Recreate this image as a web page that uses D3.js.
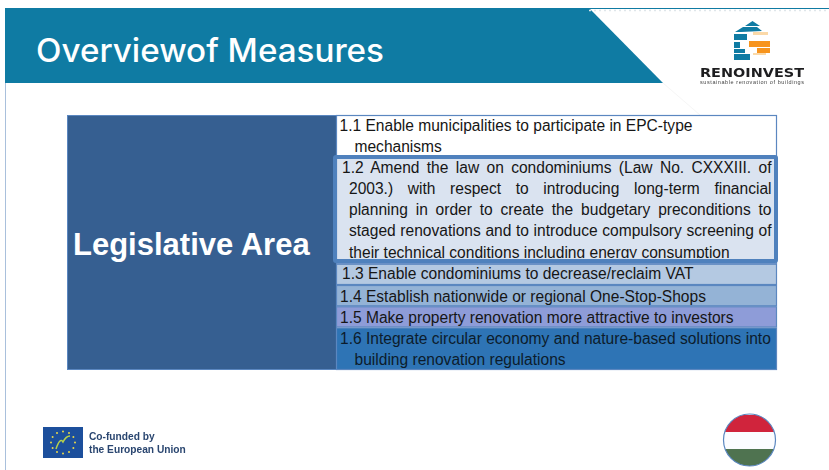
<!DOCTYPE html>
<html>
<head>
<meta charset="utf-8">
<script src="https://d3js.org/d3.v7.min.js"></script>
<style>
    html, body { margin: 0; padding: 0; background: white; overflow: hidden; }
    svg { display: block; }
    .soft { filter: blur(0.45px); }
</style>
</head>
<body>
<svg id="slide" width="829" height="470"></svg>
<script>
    const titleText = "Overviewof Measures"
    const areaLabel = "Legislative Area"
    const brandName = "RENOINVEST"
    const brandSub = "sustainable renovation of buildings"
    const fundLines = ["Co-funded by", "the European Union"]

    // one list of wrapped lines per measure
    const measureLines = [
        ["1.1 Enable municipalities to participate in EPC-type", "mechanisms"],
        ["1.2 Amend the law on condominiums (Law No. CXXXIII. of",
         "2003.) with respect to introducing long-term financial",
         "planning in order to create the budgetary preconditions to",
         "staged renovations and to introduce compulsory screening of",
         "their technical conditions including energy consumption"],
        ["1.3 Enable condominiums to decrease/reclaim VAT"],
        ["1.4 Establish nationwide or regional One-Stop-Shops"],
        ["1.5 Make property renovation more attractive to investors"],
        ["1.6 Integrate circular economy and nature-based solutions into", "building renovation regulations"]
    ]
    const measureColors = ["#ffffff", "#dae3f0", "#b4c9e2", "#94b3d6", "#8e9cd8", "#2e74b5"]
    const flagColors = ["#d0243c", "#fbfcff", "#4f7350"]

    const svg = d3.select("svg#slide")
    const teal = "#0f7ba3"
    const edge = "#5b87c0"
    const bodyFont = "'Liberation Sans', Arial, sans-serif"

    // header
    svg.append("line").attr("x1", 5.5).attr("x2", 5.5).attr("y1", 8).attr("y2", 470)
        .attr("stroke", "#a9c0dc").attr("stroke-width", 1)
    svg.append("polygon").attr("points", "5,8 589,8 663,83 5,83").attr("fill", teal)
    svg.append("line").attr("x1", 589).attr("x2", 829).attr("y1", 8.5).attr("y2", 8.5)
        .attr("stroke", teal).attr("stroke-width", 1)
    svg.append("line").attr("x1", 589).attr("x2", 829).attr("y1", 10.5).attr("y2", 10.5)
        .attr("stroke", "#dfe6ea").attr("stroke-width", 1.5).attr("stroke-dasharray", "2 3")
    svg.append("line").attr("x1", 663).attr("y1", 83).attr("x2", 700).attr("y2", 115)
        .attr("stroke", "#f6f6f6").attr("stroke-width", 1)
    svg.append("text").text(titleText)
        .attr("x", 36).attr("y", 62)
        .attr("font-family", "Inter, 'Open Sans', sans-serif")
        .attr("font-size", 32).attr("font-weight", 500)
        .attr("textLength", 348).attr("lengthAdjust", "spacingAndGlyphs")
        .attr("fill", "white")

    // logo
    const logo = svg.append("g").attr("class", "soft")
    logo.append("path").attr("d", "M752.5,21 L760,26 L745,26 Z M743,27 L757,27 L762,31 L741,32 L735,32 Z").attr("fill", teal)
    const bars = [[734, 34, 13, 6], [734, 42, 6, 6], [734, 49, 11, 4], [734, 54, 16, 6]]
    logo.selectAll("rect.bar").data(bars).join("rect").attr("class", "bar")
        .attr("x", d => d[0]).attr("y", d => d[1]).attr("width", d => d[2]).attr("height", d => d[3])
        .attr("fill", teal)
    const orange = [[753, 32, 15, 3, "#fbd9a8"], [749, 41, 21, 6, "#f7941d"], [757, 48, 13, 5, "#f7941d"], [753, 53, 13, 2, "#fbd9a8"]]
    logo.selectAll("rect.or").data(orange).join("rect").attr("class", "or")
        .attr("x", d => d[0]).attr("y", d => d[1]).attr("width", d => d[2]).attr("height", d => d[3])
        .attr("fill", d => d[4])
    logo.append("text").text(brandName)
        .attr("x", 700).attr("y", 77)
        .attr("font-family", "'DejaVu Sans', sans-serif").attr("font-weight", 700).attr("font-size", 12.5)
        .attr("textLength", 104).attr("lengthAdjust", "spacingAndGlyphs").attr("fill", "#1d1d1f")
    logo.append("text").text(brandSub)
        .attr("x", 700).attr("y", 84)
        .attr("font-family", bodyFont).attr("font-size", 5.5)
        .attr("textLength", 104).attr("lengthAdjust", "spacing").attr("fill", "#444")

    // table: row heights follow the number of text lines
    const lineCounts = measureLines.map(d => d.length)
    const lineStarts = d3.cumsum([0].concat(lineCounts))
    const yLine = d3.scaleLinear().domain([0, d3.sum(lineCounts)]).range([115, 370])
    const xCol = d3.scaleOrdinal().domain(["area", "measure", "end"]).range([67, 336, 776])

    svg.append("rect").attr("x", xCol("area") + .5).attr("y", yLine(0) + .5)
        .attr("width", xCol("measure") - xCol("area")).attr("height", yLine.range()[1] - yLine.range()[0] - 1)
        .attr("fill", "#365f91").attr("stroke", edge)
    svg.append("text").text(areaLabel)
        .attr("x", 73).attr("y", 255)
        .attr("font-family", bodyFont).attr("font-weight", 700).attr("font-size", 31)
        .attr("fill", "white")

    const rows = measureLines.map((lines, i) => ({lines, i, top: yLine(lineStarts[i]), bottom: yLine(lineStarts[i + 1])}))

    svg.selectAll("rect.row").data(rows).join("rect").attr("class", "row")
        .attr("x", xCol("measure") + .5).attr("y", d => d.top + .5)
        .attr("width", xCol("end") - xCol("measure"))
        .attr("height", d => d.bottom - d.top - 1)
        .attr("fill", d => measureColors[d.i])
        .attr("stroke", edge).attr("stroke-width", 1.2)

    // clip for the last line of 1.2, which the frame cuts off
    svg.append("clipPath").attr("id", "frameClip").append("rect")
        .attr("x", 336).attr("y", 158).attr("width", 440).attr("height", 100)

    const rowDy = [16, 15, 15.2, 17, 16.8, 16.5]
    const rowX = [339.5, 342, 342, 340, 340, 340]
    const hangX = [354.5, 349, 0, 0, 0, 354.5]
    const justifyTo = 771.5

    rows.forEach(row => {
        const g = svg.append("g")
        if (row.i == 1) g.attr("clip-path", "url(#frameClip)")
        row.lines.forEach((line, j) => {
            const x = j == 0 ? rowX[row.i] : hangX[row.i]
            const t = g.append("text").text(line)
                .attr("x", x)
                .attr("y", yLine(lineStarts[row.i] + j) + rowDy[row.i])
                .attr("font-family", bodyFont).attr("font-size", 15.57)
                .attr("fill", row.i == 5 ? "#0c1c2c" : "#161616")
            // 1.2 is justified, except its last line
            if (row.i == 1 && j < row.lines.length - 1) {
                const gaps = line.split(" ").length - 1
                const extra = (justifyTo - x - t.node().getComputedTextLength()) / gaps
                t.attr("word-spacing", extra)
            }
        })
    })

    svg.append("rect").attr("x", 335).attr("y", 157).attr("width", 441).attr("height", 104)
        .attr("fill", "none").attr("stroke", "#4f81bd").attr("stroke-width", 4).attr("rx", 1)

    // EU flag
    const eu = svg.append("g").attr("class", "soft")
    eu.append("rect").attr("x", 43).attr("y", 427).attr("width", 40).attr("height", 31).attr("fill", "#1c4f9c")
    const starAngles = d3.range(12).map(d => d * 30)
    eu.selectAll("circle.star").data(starAngles).join("circle").attr("class", "star")
        .attr("cx", d => 63 + 12 * Math.cos(d * Math.PI / 180))
        .attr("cy", d => 442.5 + 11 * Math.sin(d * Math.PI / 180))
        .attr("r", 1).attr("fill", "#e8d84a")
    eu.append("path").attr("d", "M56,449 Q60,437 63,442 Q66,436 70,436")
        .attr("fill", "none").attr("stroke", "#b8d24a").attr("stroke-width", 1.5)
    eu.selectAll("text.fund").data(fundLines).join("text").attr("class", "fund")
        .text(d => d)
        .attr("x", 89).attr("y", (d, i) => 440 + i * 13)
        .attr("font-family", bodyFont).attr("font-weight", 700).attr("font-size", 10.2)
        .attr("fill", "#2a4670")

    // flag circle
    const cx = 749.5, cy = 440, r = 26
    svg.append("clipPath").attr("id", "flagClip").append("circle")
        .attr("cx", cx).attr("cy", cy).attr("r", r)
    const yFlag = d3.scaleBand().domain(d3.range(flagColors.length)).range([cy - r + 1, cy + r])
    svg.append("g").attr("clip-path", "url(#flagClip)")
        .selectAll("rect").data(flagColors).join("rect")
        .attr("x", cx - r).attr("width", 2 * r)
        .attr("y", (d, i) => yFlag(i)).attr("height", yFlag.bandwidth())
        .attr("fill", d => d)
    svg.append("circle").attr("cx", cx).attr("cy", cy).attr("r", r)
        .attr("fill", "none").attr("stroke", "#5b87c0").attr("stroke-width", 1.2)
</script>
</body>
</html>
